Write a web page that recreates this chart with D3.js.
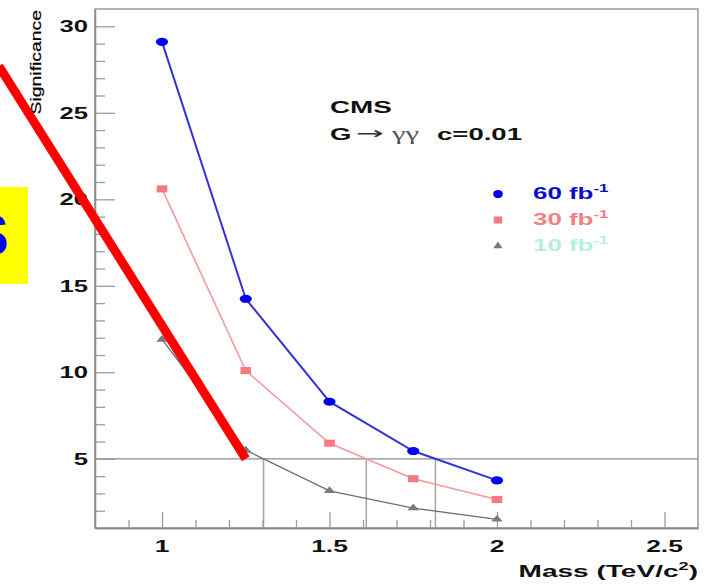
<!DOCTYPE html>
<html>
<head>
<meta charset="utf-8">
<script src="https://cdn.jsdelivr.net/npm/d3@7"></script>
<style>
    body { margin: 0; background: #fff; }
    svg { display: block; font-family: "Liberation Sans", Arial, sans-serif; }
</style>
</head>
<body>
<svg id="chart" width="707" height="584"></svg>
<script>
// G -> gamma gamma, c=0.01 : significance vs graviton mass
var masses = [1, 1.25, 1.5, 1.75, 2];
var sig60 = [29.1, 14.25, 8.3, 5.45, 3.75];
var sig30 = [20.6, 10.1, 5.9, 3.85, 2.65];
var sig10 = [11.9, 5.5, 3.15, 2.15, 1.5];
var lumiLabels = ['60', '30', '10'];
var xTickLabels = [1, 1.5, 2, 2.5];
var yTickLabels = [5, 10, 15, 20, 25, 30];
var threshold = 5;
// red marker stroke drawn over the slide (mass, significance)
var strokeMass = [0.513, 1.25];
var strokeSig = [27.7, 5];

var svg = d3.select('#chart');

var x = d3.scaleLinear().domain([0.8, 2.6]).range([95, 698]);
var y = d3.scaleLinear().domain([1, 31]).range([528, 9]);

var series = [
    {label: lumiLabels[0], values: sig60, line: '#3434d4', lineWidth: 2, mark: '#0000ee', text: '#0a0ad0', shape: 'circle'},
    {label: lumiLabels[1], values: sig30, line: '#f29a9c', lineWidth: 1.6, mark: '#f57a80', text: '#f27f82', shape: 'square'},
    {label: lumiLabels[2], values: sig10, line: '#6e6e6e', lineWidth: 1.3, mark: '#7a7a7a', text: '#b6f0d6', shape: 'triangle'}
];

// mass where a curve drops below the 5 sigma line
function crossing(values) {
    for (var i = 0; i < values.length - 1; i++) {
        if (values[i] >= threshold && values[i + 1] < threshold) {
            var f = (values[i] - threshold) / (values[i] - values[i + 1]);
            return masses[i] + f * (masses[i + 1] - masses[i]);
        }
    }
    return null;
}

function minorTicks(lo, hi, step, majors) {
    return d3.range(lo, hi + step / 2, step)
        .map(function (v) { return +v.toFixed(2); })
        .filter(function (v) { return majors.indexOf(v) < 0; });
}

function symbolPath(shape) {
    if (shape === 'circle') return d3.symbol(d3.symbolCircle, 52)();
    if (shape === 'square') return d3.symbol(d3.symbolSquare, 50)();
    return d3.symbol(d3.symbolTriangle, 26)();
}

var gray = '#8a8a8a';

// frame
svg.append('rect')
    .attr('x', x.range()[0]).attr('y', y.range()[1])
    .attr('width', x.range()[1] - x.range()[0])
    .attr('height', y.range()[0] - y.range()[1])
    .attr('fill', 'none')
    .attr('stroke', gray)
    .attr('stroke-width', 1.3);

// 5 sigma line and its crossings
svg.append('line')
    .attr('x1', x.range()[0]).attr('x2', x.range()[1])
    .attr('y1', y(threshold)).attr('y2', y(threshold))
    .attr('stroke', '#8c8c8c').attr('stroke-width', 1.2);

svg.append('g').selectAll('line')
    .data(series.map(function (s) { return crossing(s.values); }))
    .join('line')
    .attr('x1', function (d) { return x(d); })
    .attr('x2', function (d) { return x(d); })
    .attr('y1', y(threshold))
    .attr('y2', y.range()[0])
    .attr('stroke', '#a5a5a5').attr('stroke-width', 1.5);

// axes: ticks point inwards, labels drawn separately
function styleAxis(g) {
    g.selectAll('path').attr('stroke', gray).attr('stroke-width', 1.3);
    g.selectAll('line').attr('stroke', '#9c9c9c').attr('stroke-width', 1.3);
}

svg.append('g').attr('transform', 'translate(' + x.range()[0] + ',0)')
    .call(d3.axisLeft(y).tickValues(yTickLabels).tickSizeInner(-20).tickSizeOuter(0).tickFormat(''))
    .call(styleAxis);
svg.append('g').attr('transform', 'translate(' + x.range()[0] + ',0)')
    .call(d3.axisLeft(y).tickValues(minorTicks(2, 30, 1, yTickLabels)).tickSizeInner(-10).tickSizeOuter(0).tickFormat(''))
    .call(styleAxis);
svg.append('g').attr('transform', 'translate(0,' + y.range()[0] + ')')
    .call(d3.axisBottom(x).tickValues(xTickLabels).tickSizeInner(-16).tickSizeOuter(0).tickFormat(''))
    .call(styleAxis);
svg.append('g').attr('transform', 'translate(0,' + y.range()[0] + ')')
    .call(d3.axisBottom(x).tickValues(minorTicks(0.9, 2.5, 0.1, xTickLabels)).tickSizeInner(-8).tickSizeOuter(0).tickFormat(''))
    .call(styleAxis);

// tick labels (wide bold face)
svg.append('g').selectAll('text')
    .data(yTickLabels)
    .join('text')
    .attr('transform', function (d) { return 'translate(88,' + y(d) + ') scale(1.6,1)'; })
    .attr('text-anchor', 'end')
    .attr('dy', '0.36em')
    .attr('font-size', 16)
    .attr('font-weight', 'bold')
    .attr('fill', '#111')
    .text(function (d) { return d; });

svg.append('g').selectAll('text')
    .data(xTickLabels)
    .join('text')
    .attr('transform', function (d) { return 'translate(' + x(d) + ',552) scale(1.6,1)'; })
    .attr('text-anchor', 'middle')
    .attr('font-size', 16.5)
    .attr('font-weight', 'bold')
    .attr('fill', '#111')
    .text(function (d) { return d; });

// axis titles
var xTitle = svg.append('text')
    .attr('transform', 'translate(698,577) scale(1.65,1)')
    .attr('text-anchor', 'end')
    .attr('font-size', 17)
    .attr('font-weight', 'bold')
    .attr('fill', '#111');
xTitle.append('tspan').text('Mass (TeV/c');
xTitle.append('tspan').attr('dy', -7).attr('font-size', 11).text('2');
xTitle.append('tspan').attr('dy', 7).text(')');

svg.append('text')
    .attr('transform', 'translate(41,10) rotate(-90) scale(1.25,1)')
    .attr('text-anchor', 'end')
    .attr('font-size', 15.5)
    .attr('fill', '#000')
    .attr('stroke', '#000')
    .attr('stroke-width', 0.2)
    .text('Significance');

// curves
var line = d3.line()
    .x(function (d) { return x(d[0]); })
    .y(function (d) { return y(d[1]); });

series.forEach(function (s) {
    var pts = masses.map(function (m, i) { return [m, s.values[i]]; });
    svg.append('path')
        .datum(pts)
        .attr('d', line)
        .attr('fill', 'none')
        .attr('stroke', s.line)
        .attr('stroke-width', s.lineWidth);
    svg.append('g').selectAll('path')
        .data(pts)
        .join('path')
        .attr('d', symbolPath(s.shape))
        .attr('transform', function (d) { return 'translate(' + x(d[0]) + ',' + y(d[1]) + ') scale(1.5,1)'; })
        .attr('fill', s.mark);
});

// CMS label
svg.append('text')
    .attr('transform', 'translate(330,113) scale(1.64,1)')
    .attr('font-size', 17)
    .attr('font-weight', 'bold')
    .attr('fill', '#111')
    .text('CMS');
svg.append('text')
    .attr('transform', 'translate(330,140) scale(1.62,1)')
    .attr('font-size', 17)
    .attr('font-weight', 'bold')
    .attr('fill', '#111')
    .text('G');
svg.append('text')
    .attr('transform', 'translate(356,139) scale(1.95,1)')
    .attr('font-size', 17)
    .attr('font-family', 'DejaVu Sans')
    .attr('fill', '#333')
    .text('\u2192');
svg.append('text')
    .attr('transform', 'translate(392,140) scale(1.6,1)')
    .attr('font-size', 19)
    .attr('font-family', 'Liberation Serif')
    .attr('fill', '#555')
    .text('\u03b3\u03b3');
svg.append('text')
    .attr('transform', 'translate(437,140) scale(1.62,1)')
    .attr('font-size', 17)
    .attr('font-weight', 'bold')
    .attr('fill', '#111')
    .text('c=0.01');

// legend
var legendY = [194, 220, 246];
var legend = svg.append('g').selectAll('g')
    .data(series)
    .join('g')
    .attr('transform', function (d, i) { return 'translate(0,' + legendY[i] + ')'; });
legend.append('path')
    .attr('d', function (d) { return symbolPath(d.shape); })
    .attr('transform', 'translate(498,0) scale(1.2,1)')
    .attr('fill', function (d) { return d.mark; });
var legendText = legend.append('text')
    .attr('transform', 'translate(533,5) scale(1.62,1)')
    .attr('font-size', 16)
    .attr('font-weight', 'bold')
    .attr('fill', function (d) { return d.text; });
legendText.append('tspan').text(function (d) { return d.label + ' fb'; });
legendText.append('tspan').attr('dy', -7).attr('font-size', 10.5).text('-1');

// slide decoration: yellow box with clipped blue letter
svg.append('rect')
    .attr('x', 0).attr('y', 187)
    .attr('width', 28).attr('height', 97)
    .attr('fill', '#ffff00');
svg.append('text')
    .attr('x', 9).attr('y', 255)
    .attr('text-anchor', 'end')
    .attr('font-size', 58)
    .attr('font-weight', 'bold')
    .attr('fill', '#0000ff')
    .text('S');

// red marker stroke on top
svg.append('line')
    .attr('x1', x(strokeMass[0])).attr('y1', y(strokeSig[0]))
    .attr('x2', x(strokeMass[1])).attr('y2', y(strokeSig[1]))
    .attr('stroke', '#ff0000')
    .attr('stroke-width', 9);
</script>
</body>
</html>
